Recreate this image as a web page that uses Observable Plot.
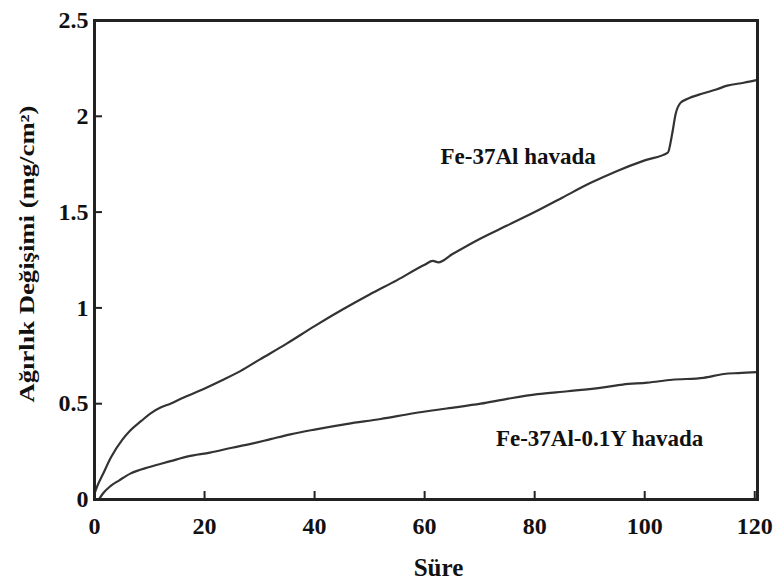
<!DOCTYPE html>
<html>
<head>
<meta charset="utf-8">
<script src="https://cdn.jsdelivr.net/npm/d3@7"></script>
<script src="https://cdn.jsdelivr.net/npm/@observablehq/plot@0.6"></script>
<style>
  body { margin: 0; background: #fff; }
  #chart svg { display: block; }
</style>
</head>
<body>
<div id="chart"></div>
<script>
// Oxidation weight gain over time for two alloys in air
const upperT = [0, 0.5, 1.5, 3, 5, 6.5, 8.5, 10.2, 12, 13.8, 16, 19.3, 23, 26.5, 30, 35, 40, 45, 50, 55, 60, 61.5, 62.5, 65, 70, 75, 80, 85, 90, 95, 100, 104.2, 105, 105.6, 106.5, 107.7, 110.7, 113, 115, 118, 120.5];
const upperV = [0.03, 0.07, 0.13, 0.22, 0.31, 0.36, 0.41, 0.45, 0.48, 0.50, 0.53, 0.57, 0.62, 0.67, 0.73, 0.815, 0.905, 0.99, 1.07, 1.145, 1.225, 1.245, 1.238, 1.28, 1.36, 1.43, 1.50, 1.575, 1.65, 1.715, 1.77, 1.81, 1.91, 2.01, 2.07, 2.09, 2.12, 2.14, 2.16, 2.175, 2.19];

const lowerT = [0.8, 1.5, 2.9, 4.5, 6.5, 10, 13.8, 17, 21, 25, 28.4, 32, 35.6, 40, 46, 52, 58, 64, 70.2, 75, 80.5, 86, 92.5, 96, 100.5, 105, 110.7, 114.4, 117, 120.5];
const lowerV = [0.0, 0.03, 0.07, 0.10, 0.135, 0.17, 0.20, 0.225, 0.245, 0.27, 0.29, 0.315, 0.34, 0.365, 0.395, 0.42, 0.45, 0.475, 0.50, 0.525, 0.55, 0.565, 0.585, 0.60, 0.61, 0.625, 0.635, 0.655, 0.66, 0.665];

const seriesNames = ["Fe-37Al havada", "Fe-37Al-0.1Y havada"];
const xTicks = [0, 20, 40, 60, 80, 100, 120];
const yTicks = [0, 0.5, 1, 1.5, 2, 2.5];
const yTickLabels = ["0", "0.5", "1", "1.5", "2", "2.5"];
const xTitle = "Süre";
const yTitle = "Ağırlık Değişimi (mg/cm²)";

const upper = upperT.map((t, i) => ({t, v: upperV[i]}));
const lower = lowerT.map((t, i) => ({t, v: lowerV[i]}));

// in-plot labels placed beside each curve
const curveLabels = [
  {name: seriesNames[0], t: 77, v: 1.792},
  {name: seriesNames[1], t: 91.8, v: 0.32}
];

const serif = "'Liberation Serif', 'Times New Roman', serif";
const ink = "#111";

const width = 779, height = 582;
const margin = {left: 94, right: 22, top: 20, bottom: 83};
const tickLen = 8;
const frameW = width - margin.left - margin.right;
const frameH = height - margin.top - margin.bottom;

const chart = Plot.plot({
  width,
  height,
  marginLeft: margin.left,
  marginRight: margin.right,
  marginTop: margin.top,
  marginBottom: margin.bottom,
  style: {fontFamily: serif, fontWeight: "bold", color: ink, background: "#fff", overflow: "visible"},
  x: {domain: [0, 120.5]},
  y: {domain: [0, 2.5]},
  marks: [
    Plot.line(upper, {x: "t", y: "v", stroke: "#333", strokeWidth: 2.2, curve: "monotone-x"}),
    Plot.line(lower, {x: "t", y: "v", stroke: "#333", strokeWidth: 2.2, curve: "monotone-x"}),
    // short ticks pointing into the plot from the bottom and left edges
    Plot.tickX(xTicks, {x: (d) => d, insetTop: frameH - tickLen, stroke: "#222", strokeWidth: 2}),
    Plot.tickY(yTicks, {y: (d) => d, insetRight: frameW - tickLen, stroke: "#222", strokeWidth: 2}),
    Plot.frame({stroke: "#222", strokeWidth: 3}),
    // tick labels
    Plot.axisX(xTicks, {tickSize: 0, tickPadding: 17, fontSize: 24, fill: ink, label: null}),
    Plot.axisY(yTicks, {tickSize: 0, tickPadding: 6, fontSize: 24, fill: ink, label: null,
      tickFormat: (d) => yTickLabels[yTicks.indexOf(d)]}),
    // curve labels
    Plot.text(curveLabels, {x: "t", y: "v", text: "name", fontSize: 23, fill: ink, lineAnchor: "middle"}),
    // axis titles
    Plot.text([xTitle], {frameAnchor: "bottom", dx: 12.5, dy: 68, fontSize: 25, fill: ink, lineAnchor: "middle"}),
    Plot.text([yTitle], {frameAnchor: "left", dx: -67, dy: -6, rotate: -90, fontSize: 20, fill: ink, lineAnchor: "middle"})
  ]
});

document.getElementById("chart").append(chart);

// the vertical title is set wide along its run, centred on its anchor
const titleRun = 297;
d3.select(chart).selectAll("text")
  .filter(function () { return this.textContent === yTitle; })
  .attr("text-anchor", "start")
  .attr("x", -titleRun / 2)
  .attr("textLength", titleRun)
  .attr("lengthAdjust", "spacingAndGlyphs");
</script>
</body>
</html>
